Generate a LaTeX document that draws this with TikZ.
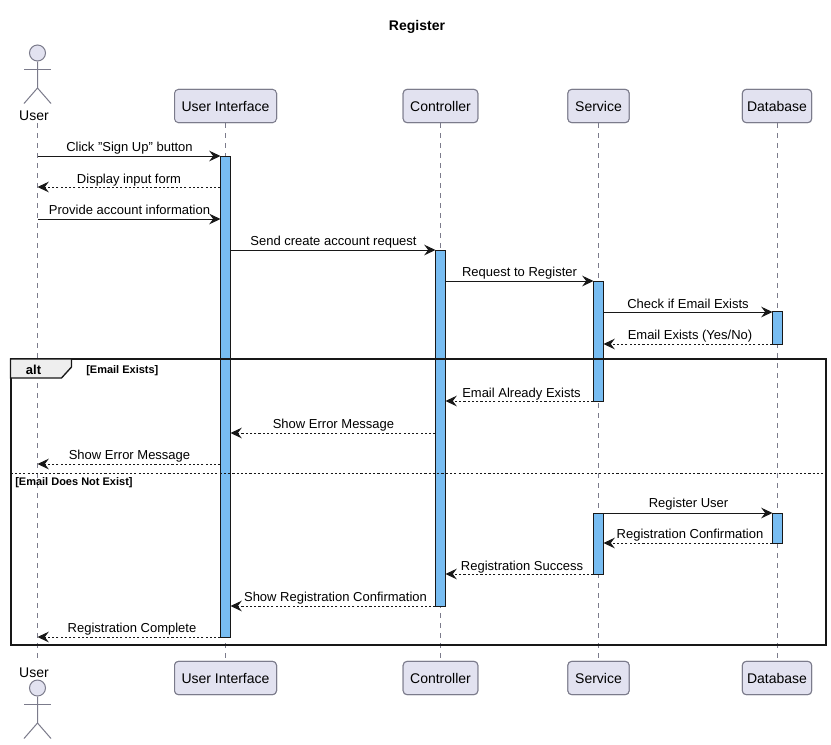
\documentclass[tikz,border=0pt]{standalone}
\usepackage{fontspec}
\setmainfont{Liberation Sans}
\usetikzlibrary{arrows.meta}
\definecolor{partfill}{HTML}{E2E2F0}
\definecolor{partline}{HTML}{7B7B8B}
\definecolor{actfill}{HTML}{78BDF2}
\definecolor{ink}{HTML}{181818}
\definecolor{tabfill}{HTML}{EEEEEE}
\tikzset{
  x=0.75pt,y=-0.75pt,
  part/.style={draw=partline,fill=partfill,rounded corners=3pt,line width=0.75pt,minimum height=25pt,inner sep=0pt,font=\fontsize{10.5}{12}\selectfont,text=black},
  lifeline/.style={draw=partline,line width=0.75pt,dash pattern=on 3.75pt off 3.75pt},
  actbar/.style={draw=ink,fill=actfill,line width=0.75pt,minimum width=7.5pt,inner sep=0pt,outer sep=0pt},
  actorline/.style={draw=partline,line width=0.75pt},
  actorname/.style={font=\fontsize{10.5}{12}\selectfont,inner sep=0pt,anchor=base,text=black},
  call/.style={draw=ink,line width=0.75pt,-{Stealth[length=8.5pt,width=8pt,inset=3pt]}},
  ret/.style={draw=ink,line width=0.75pt,dash pattern=on 1.6pt off 1.6pt,-{Stealth[length=8.5pt,width=8pt,inset=3pt,line width=0.75pt]}},
  msg/.style={font=\fontsize{9.75}{12}\selectfont,inner sep=0pt,anchor=base,text=black},
  guard/.style={font=\fontsize{8.25}{10}\bfseries\selectfont,inner sep=0pt,anchor=base west,text=black},
}
\begin{document}
\begin{tikzpicture}
\useasboundingbox (0,0) rectangle (831,744);
\fill[white] (0,0) rectangle (831,744);
\node[font=\fontsize{10.5}{12}\bfseries\selectfont,inner sep=0pt,anchor=base] (title) at (417,30) {Register};

% participants
\node[part,minimum width=76.5pt] (uiT) at (225.5,106) {User Interface};
\node[part,minimum width=76.5pt] (uiB) at (225.5,678) {User Interface};
\node[part,minimum width=56pt] (ctT) at (440.5,106) {Controller};
\node[part,minimum width=56pt] (ctB) at (440.5,678) {Controller};
\node[part,minimum width=46pt] (svT) at (598.5,106) {Service};
\node[part,minimum width=46pt] (svB) at (598.5,678) {Service};
\node[part,minimum width=52pt] (dbT) at (777,106) {Database};
\node[part,minimum width=52pt] (dbB) at (777,678) {Database};

% actors
\node[actorname] (usT) at (34,120) {User};
\node[actorname] (usB) at (34,677) {User};
\coordinate (usTop) at (37.5,123);
\coordinate (usBot) at (37.5,659);
\node[draw=partline,fill=partfill,circle,line width=0.75pt,minimum size=12pt,inner sep=0pt] (headT) at (37.5,53) {};
\node[draw=partline,fill=partfill,circle,line width=0.75pt,minimum size=12pt,inner sep=0pt] (headB) at (37.5,688) {};
\draw[actorline] (headT.south) -- (37.5,88) -- (24,103.5);
\draw[actorline] (37.5,88) -- (51,103.5);
\draw[actorline] (24,69.5) -- (51,69.5);
\draw[actorline] (headB.south) -- (37.5,723) -- (24,738.5);
\draw[actorline] (37.5,723) -- (51,738.5);
\draw[actorline] (24,704.5) -- (51,704.5);

% lifelines
\draw[lifeline] (usTop) -- (usBot);
\draw[lifeline] (uiT) -- (uiB);
\draw[lifeline] (ctT) -- (ctB);
\draw[lifeline] (svT) -- (svB);
\draw[lifeline] (dbT) -- (dbB);
\path[fill=white] (uiT.south west) rectangle (uiT.north east);
\node[part,minimum width=76.5pt] at (uiT) {User Interface};
\node[part,minimum width=76.5pt] at (uiB) {User Interface};
\node[part,minimum width=56pt] at (ctT) {Controller};
\node[part,minimum width=56pt] at (ctB) {Controller};
\node[part,minimum width=46pt] at (svT) {Service};
\node[part,minimum width=46pt] at (svB) {Service};
\node[part,minimum width=52pt] at (dbT) {Database};
\node[part,minimum width=52pt] at (dbB) {Database};

% activations
\node[actbar,minimum height=360.75pt] (uiA) at (225.5,396.5) {};
\node[actbar,minimum height=267pt] (ctA) at (440.5,428) {};
\node[actbar,minimum height=90pt] (svA) at (598.5,341) {};
\node[actbar,minimum height=45.75pt] (svB2) at (598.5,543.5) {};
\node[actbar,minimum height=24.4pt] (dbA) at (777.5,328.25) {};
\node[actbar,minimum height=22.5pt] (dbA2) at (777.5,528) {};

% frame
\draw[draw=ink,line width=1.5pt,fill=none] (10.5,359) rectangle (826,645);
\draw[draw=ink,line width=1pt,fill=tabfill] (10.5,359) -- (71.5,359) -- (71.5,367) -- (61.5,378) -- (10.5,378) -- cycle;
\node[font=\fontsize{9.75}{12}\bfseries\selectfont,inner sep=0pt,anchor=base] (alt) at (33.5,374) {alt};
\node[guard] (g1) at (86,373) {[Email Exists]};
\draw[draw=ink,line width=0.75pt,dash pattern=on 1.6pt off 1.6pt] (10.5,473) -- (826,473);
\node[guard] (g2) at (15,485) {[Email Does Not Exist]};

% rows
\foreach \n/\y in {1/156,2/187,3/219,4/250,5/281,6/312,7/344,8/401,9/433,10/464,11/513,12/543,13/574,14/606,15/637}
  \coordinate (m\n) at (0,\y);

\draw[call] (usTop |- m1) -- (uiA.west |- m1);
\draw[ret]  (uiA.west |- m2) -- (usTop |- m2);
\draw[call] (usTop |- m3) -- (uiA.west |- m3);
\draw[call] (uiA.east |- m4) -- (ctA.west |- m4);
\draw[call] (ctA.east |- m5) -- (svA.west |- m5);
\draw[call] (svA.east |- m6) -- (dbA.west |- m6);
\draw[ret]  (dbA.west |- m7) -- (svA.east |- m7);
\draw[ret]  (svA.west |- m8) -- (ctA.east |- m8);
\draw[ret]  (ctA.west |- m9) -- (uiA.east |- m9);
\draw[ret]  (uiA.west |- m10) -- (usTop |- m10);
\draw[call] (svA.east |- m11) -- (dbA.west |- m11);
\draw[ret]  (dbA.west |- m12) -- (svA.east |- m12);
\draw[ret]  (svA.west |- m13) -- (ctA.east |- m13);
\draw[ret]  (ctA.west |- m14) -- (uiA.east |- m14);
\draw[ret]  (uiA.west |- m15) -- (usTop |- m15);

\node[msg] (l1) at (129.5,151) {Click "Sign Up" button};
\node[msg] (l2) at (129,183) {Display input form};
\node[msg] (l3) at (129.5,214) {Provide account information};
\node[msg] (l4) at (333.5,245) {Send create account request};
\node[msg] (l5) at (519.5,276) {Request to Register};
\node[msg] (l6) at (688,308) {Check if Email Exists};
\node[msg] (l7) at (690,339) {Email Exists (Yes/No)};
\node[msg] (l8) at (521.5,397) {Email Already Exists};
\node[msg] (l9) at (333.5,428) {Show Error Message};
\node[msg] (l10) at (129.5,459) {Show Error Message};
\node[msg] (l11) at (688.5,507) {Register User};
\node[msg] (l12) at (690,538) {Registration Confirmation};
\node[msg] (l13) at (522,570) {Registration Success};
\node[msg] (l14) at (335.5,601) {Show Registration Confirmation};
\node[msg] (l15) at (132,632) {Registration Complete};
\end{tikzpicture}
\end{document}
